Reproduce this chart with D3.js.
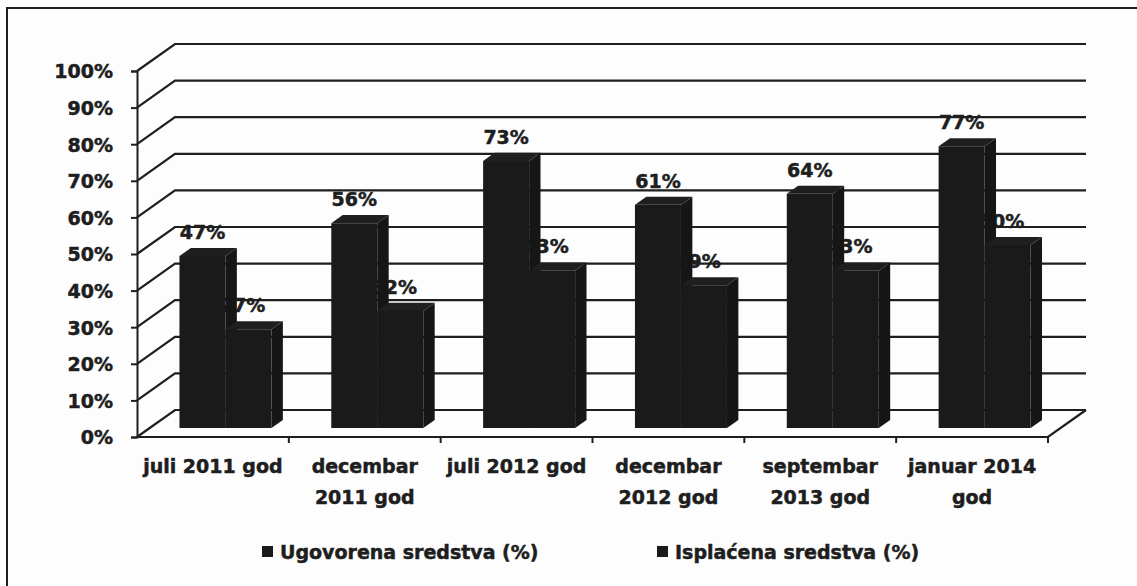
<!DOCTYPE html>
<html>
<head>
<meta charset="utf-8">
<script src="https://cdn.jsdelivr.net/npm/d3@7"></script>
<style>
  body { margin: 0; background: #fdfdfd; }
  svg text { font-family: "DejaVu Sans", sans-serif; font-weight: bold; fill: #1e1e1e;
             stroke: #1e1e1e; stroke-width: 0.5px; }
</style>
</head>
<body>
<div id="chart"></div>
<script>
// chart data
const CATEGORIES = [
    ["juli 2011 god"],
    ["decembar", "2011 god"],
    ["juli 2012 god"],
    ["decembar", "2012 god"],
    ["septembar", "2013 god"],
    ["januar 2014", "god"]
];
const SERIES = ["Ugovorena sredstva (%)", "Isplaćena sredstva (%)"];
const UGOVORENA = [47, 56, 73, 61, 64, 77];
const ISPLACENA = [27, 32, 43, 39, 43, 50];
const Y_TICKS = [0, 10, 20, 30, 40, 50, 60, 70, 80, 90, 100];

// frame constants
const FRAME_WIDTH = 1137;
const FRAME_HEIGHT = 586;
const PLOT = {left: 137, right: 1048, top: 71, bottom: 437};
const DEPTH = {dx: 38, dy: -27};          // full depth of the 3d box
const BAR_Z = {front: 0.33, back: 0.63};  // where the bars sit in depth
const INK = "#1e1e1e";
const BAR_COLOR = "#1a1a1a";

const X_SCALE = d3.scaleBand()
    .domain(d3.range(CATEGORIES.length))
    .range([PLOT.left, PLOT.right])
    .paddingInner(0.394)
    .paddingOuter(0.197);
const X1_SCALE = d3.scaleBand()
    .domain([0, 1])
    .range([0, X_SCALE.bandwidth()]);
const Y_SCALE = d3.scaleLinear()
    .domain([0, 100])
    .range([PLOT.bottom, PLOT.top]);

const off = (z) => [DEPTH.dx * z, DEPTH.dy * z];

const svg = d3.select("#chart")
    .append("svg")
    .attr("width", FRAME_WIDTH)
    .attr("height", FRAME_HEIGHT);

// outer border
svg.append("rect")
    .attr("x", 7).attr("y", 8)
    .attr("width", 1160).attr("height", 620)
    .attr("fill", "none")
    .attr("stroke", INK)
    .attr("stroke-width", 2);

// back wall gridlines and left wall diagonals
const [bx, by] = off(1);
const grid = svg.append("g")
    .attr("stroke", INK)
    .attr("stroke-width", 2.2)
    .attr("fill", "none");
Y_TICKS.forEach((t) => {
    const y = Y_SCALE(t);
    grid.append("path")
        .attr("d", "M" + PLOT.left + "," + y + "L" + (PLOT.left + bx) + "," + (y + by)
            + "L" + (PLOT.right + bx) + "," + (y + by));
});
// floor front edge and right diagonal
grid.append("path")
    .attr("d", "M" + PLOT.left + "," + PLOT.bottom + "L" + PLOT.right + "," + PLOT.bottom
        + "L" + (PLOT.right + bx) + "," + (PLOT.bottom + by));

// y axis (front)
const yAxis = svg.append("g")
    .attr("transform", "translate(" + PLOT.left + ",0)")
    .call(d3.axisLeft(Y_SCALE).tickValues(Y_TICKS).tickSize(6).tickPadding(18)
        .tickFormat((d) => d + "%"));
yAxis.select(".domain").attr("stroke", INK).attr("stroke-width", 2);
yAxis.selectAll(".tick line").attr("stroke", INK).attr("stroke-width", 2);
yAxis.selectAll("text")
    .attr("font-size", "19px")
    .attr("font-family", "DejaVu Sans, sans-serif")
    .attr("fill", INK)
    .attr("dy", "0.36em");

// x axis ticks at the category boundaries
const boundaries = d3.range(1, CATEGORIES.length + 1)
    .map((i) => PLOT.left + X_SCALE.step() * i);
svg.append("g").selectAll("line")
    .data(boundaries)
    .enter()
    .append("line")
    .attr("x1", (d) => d).attr("x2", (d) => d)
    .attr("y1", PLOT.bottom).attr("y2", PLOT.bottom + 6)
    .attr("stroke", INK)
    .attr("stroke-width", 2);

// x category labels
const xLabels = svg.append("g");
CATEGORIES.forEach((lines, i) => {
    const cx = X_SCALE(i) + X_SCALE.bandwidth() / 2;
    const t = xLabels.append("text")
        .attr("text-anchor", "middle")
        .attr("font-size", "19px")
        .attr("x", cx)
        .attr("y", 473);
    lines.forEach((line, j) => {
        t.append("tspan")
            .attr("x", cx)
            .attr("dy", j === 0 ? 0 : 31)
            .text(line);
    });
});

// bar geometry
const [fx, fy] = off(BAR_Z.front);
const [kx, ky] = off(BAR_Z.back);
function barShape(i, s, v) {
    const x0 = X_SCALE(i) + X1_SCALE(s);
    const w = X1_SCALE.bandwidth();
    const yt = Y_SCALE(v), yb = Y_SCALE(0);
    return {
        front: [[x0 + fx, yt + fy], [x0 + w + fx, yt + fy], [x0 + w + fx, yb + fy], [x0 + fx, yb + fy]],
        top: [[x0 + fx, yt + fy], [x0 + w + fx, yt + fy], [x0 + w + kx, yt + ky], [x0 + kx, yt + ky]],
        side: [[x0 + w + fx, yt + fy], [x0 + w + kx, yt + ky], [x0 + w + kx, yb + ky], [x0 + w + fx, yb + fy]],
        cx: x0 + w / 2 + fx,
        topY: yt + ky
    };
}
const pts = (p) => p.map((q) => q.join(",")).join(" ");

// Isplacena labels go first so the taller bar hides part of them
const labels2 = svg.append("g");
ISPLACENA.forEach((v, i) => {
    const b = barShape(i, 1, v);
    labels2.append("text")
        .attr("text-anchor", "middle")
        .attr("font-size", "19px")
        .attr("x", b.cx - 6)
        .attr("y", b.topY - 16)
        .attr("dy", "0.36em")
        .text(v + "%");
});

// bars, one group at a time
const bars = svg.append("g");
CATEGORIES.forEach((c, i) => {
    [UGOVORENA[i], ISPLACENA[i]].forEach((v, s) => {
        const b = barShape(i, s, v);
        bars.append("polygon").attr("points", pts(b.side)).attr("fill", "#161616");
        bars.append("polygon").attr("points", pts(b.top)).attr("fill", "#1f1f1f");
        bars.append("polygon").attr("points", pts(b.front)).attr("fill", BAR_COLOR);
    });
});

// Ugovorena labels on top
const labels1 = svg.append("g");
UGOVORENA.forEach((v, i) => {
    const b = barShape(i, 0, v);
    labels1.append("text")
        .attr("text-anchor", "middle")
        .attr("font-size", "19px")
        .attr("x", b.cx)
        .attr("y", b.topY - 16)
        .attr("dy", "0.36em")
        .text(v + "%");
});

// legend
const legendX = [262, 657];
const legend = svg.append("g");
SERIES.forEach((name, s) => {
    legend.append("rect")
        .attr("x", legendX[s]).attr("y", 546)
        .attr("width", 11).attr("height", 11)
        .attr("fill", BAR_COLOR);
    legend.append("text")
        .attr("x", legendX[s] + 18)
        .attr("y", 552)
        .attr("dy", "0.36em")
        .attr("font-size", "19px")
        .text(name);
});
</script>
</body>
</html>
